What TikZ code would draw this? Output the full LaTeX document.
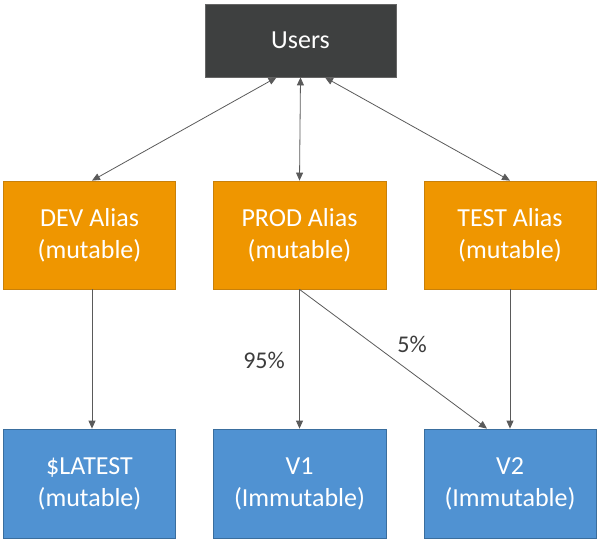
\documentclass[tikz,border=0pt]{standalone}
\usepackage{fontspec}
\setmainfont{Carlito}
\usetikzlibrary{arrows.meta}
\definecolor{usersbg}{HTML}{3E4040}
\definecolor{orangebg}{HTML}{EF9600}
\definecolor{orangebd}{HTML}{C8800A}
\definecolor{bluebg}{HTML}{5092D2}
\definecolor{bluebd}{HTML}{3A6E9E}
\definecolor{linegray}{HTML}{5A5A5A}
\definecolor{labelgray}{HTML}{3C3C3C}
\tikzset{
  box/.style={draw, line width=0.8pt, align=center, text=white, inner sep=0pt,
    font=\fontsize{26}{32}\selectfont},
  usersbox/.style={box, fill=usersbg, draw=black!60, minimum width=191pt, minimum height=73pt},
  aliasbox/.style={box, fill=orangebg, draw=orangebd, minimum width=172pt, minimum height=108pt},
  verbox/.style={box, fill=bluebg, draw=bluebd, minimum width=172pt, minimum height=109pt},
  conn/.style={draw=linegray, line width=0.8pt, -{Triangle[length=8pt,width=7pt]}},
  biconn/.style={draw=linegray, line width=0.8pt, {Triangle[length=8pt,width=7pt]}-{Triangle[length=8pt,width=7pt]}},
  pct/.style={text=labelgray, font=\fontsize{24}{28}\selectfont}
}
\begin{document}
\begin{tikzpicture}[x=1pt,y=-1pt]
\useasboundingbox (0,0) rectangle (600,542);
\node[usersbox] (users) at (300.5,40.5) {Users};
\node[aliasbox] (dev) at (89.5,235) {DEV Alias\\(mutable)};
\node[aliasbox, minimum width=173pt] (prod) at (299.5,235) {PROD Alias\\(mutable)};
\node[aliasbox] (test) at (510,235) {TEST Alias\\(mutable)};
\node[verbox] (latest) at (89.5,483.5) {\$LATEST\\(mutable)};
\node[verbox, minimum width=173pt] (v1) at (299.5,483.5) {V1\\(Immutable)};
\node[verbox] (v2) at (510,483.5) {V2\\(Immutable)};
\draw[biconn] ([xshift=-24pt]users.south) -- ([xshift=2.5pt]dev.north);
\draw[biconn] (users.south) -- (prod.north);
\draw[biconn] ([xshift=24.5pt]users.south) -- (test.north);
\draw[conn] ([xshift=2.5pt]dev.south) -- ([xshift=2.5pt]latest.north);
\draw[conn] (prod.south) -- (v1.north);
\draw[conn] (prod.south) -- ([xshift=-23pt]v2.north);
\draw[conn] (test.south) -- (v2.north);
\node[pct] (p95) at (264,360) {95\%};
\node[pct] (p5) at (412,344) {5\%};
\end{tikzpicture}
\end{document}
